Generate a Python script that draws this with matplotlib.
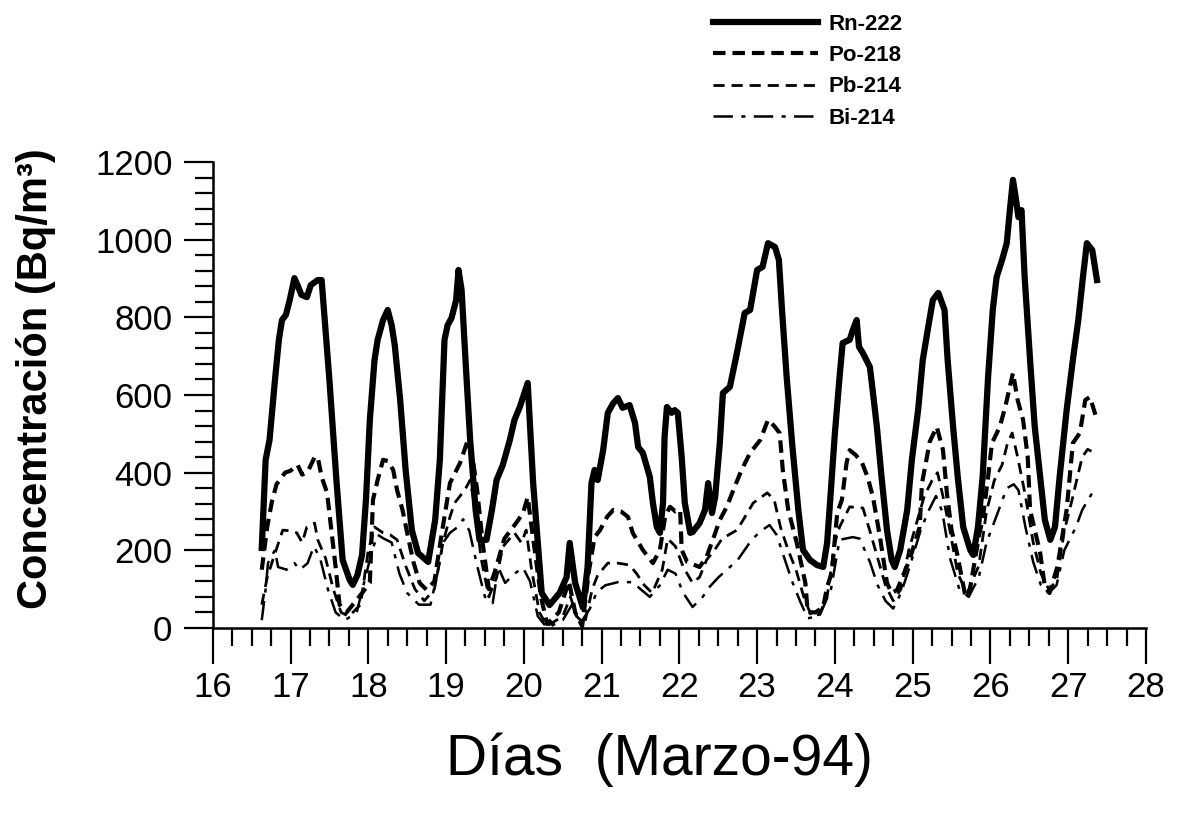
import numpy as np
import matplotlib
matplotlib.use('Agg')
import matplotlib.pyplot as plt
from matplotlib.ticker import MultipleLocator

plt.rcParams['font.family'] = ['Liberation Sans', 'DejaVu Sans']
plt.rcParams['lines.scale_dashes'] = False

# Rn-222 (day of March 1994, Bq/m3)
rn_day = [16.63, 16.68, 16.73, 16.80, 16.85, 16.89, 16.94, 16.99, 17.05, 17.09,
          17.14, 17.21, 17.26, 17.35, 17.40, 17.50, 17.59, 17.67, 17.76, 17.80,
          17.86, 17.92, 17.97, 18.02, 18.08, 18.12, 18.19, 18.25, 18.30, 18.34,
          18.41, 18.48, 18.56, 18.64, 18.77, 18.86, 18.92, 18.98, 19.02, 19.07,
          19.13, 19.16, 19.20, 19.25, 19.31, 19.38, 19.43, 19.52, 19.59, 19.65,
          19.73, 19.82, 19.88, 19.95, 20.05, 20.12, 20.23, 20.33, 20.46, 20.55,
          20.59, 20.66, 20.76, 20.82, 20.87, 20.91, 20.95, 21.02, 21.08, 21.15,
          21.21, 21.27, 21.36, 21.43, 21.47, 21.53, 21.62, 21.66, 21.71, 21.75,
          21.79, 21.81, 21.84, 21.90, 21.94, 21.98, 22.03, 22.07, 22.14, 22.17,
          22.26, 22.33, 22.37, 22.42, 22.46, 22.52, 22.56, 22.65, 22.74, 22.84,
          22.91, 23.00, 23.07, 23.14, 23.23, 23.28, 23.32, 23.38, 23.45, 23.53,
          23.59, 23.68, 23.77, 23.85, 23.90, 23.94, 24.00, 24.06, 24.10, 24.19,
          24.23, 24.28, 24.31, 24.36, 24.45, 24.49, 24.54, 24.60, 24.67, 24.73,
          24.77, 24.84, 24.93, 24.99, 25.07, 25.13, 25.20, 25.26, 25.33, 25.41,
          25.45, 25.52, 25.58, 25.65, 25.74, 25.78, 25.84, 25.90, 25.97, 26.03,
          26.08, 26.15, 26.21, 26.25, 26.29, 26.33, 26.36, 26.40, 26.44, 26.51,
          26.57, 26.64, 26.70, 26.77, 26.83, 26.89, 26.98, 27.06, 27.13, 27.19,
          27.24, 27.31, 27.37]
rn_conc = [206, 433, 484, 639, 742, 793, 806, 845, 901, 883,
           858, 852, 883, 896, 896, 639, 381, 175, 124, 111,
           136, 188, 330, 536, 690, 742, 793, 819, 780, 729,
           587, 407, 252, 193, 170, 278, 433, 742, 780, 798,
           845, 922, 870, 690, 484, 304, 227, 227, 304, 381,
           420, 484, 536, 570, 631, 373, 90, 59, 90, 131,
           219, 116, 52, 157, 373, 407, 381, 458, 554, 579,
           592, 567, 574, 528, 466, 451, 389, 322, 260, 245,
           322, 492, 569, 554, 561, 554, 440, 322, 245, 247,
           270, 304, 373, 296, 337, 476, 605, 621, 708, 811,
           819, 922, 930, 991, 981, 948, 819, 646, 476, 304,
           201, 175, 162, 157, 219, 330, 502, 646, 734, 742,
           767, 793, 724, 708, 672, 605, 518, 389, 252, 175,
           157, 201, 304, 433, 561, 690, 775, 845, 863, 819,
           690, 518, 389, 260, 201, 188, 260, 389, 646, 819,
           904, 948, 991, 1076, 1154, 1102, 1058, 1076, 904, 690,
           518, 389, 278, 227, 260, 389, 561, 690, 793, 904,
           991, 973, 896]

# Po-218
po_day = [16.63, 16.70, 16.76, 16.82, 16.93, 17.00, 17.09, 17.15, 17.22, 17.31,
          17.35, 17.40, 17.47, 17.53, 17.58, 17.63, 17.72, 17.85, 18.02, 18.06,
          18.12, 18.19, 18.25, 18.32, 18.37, 18.44, 18.50, 18.58, 18.66, 18.75,
          18.85, 18.95, 19.05, 19.18, 19.28, 19.34, 19.40, 19.47, 19.55, 19.62,
          19.75, 19.90, 19.99, 20.05, 20.10, 20.14, 20.22, 20.30, 20.45, 20.58,
          20.66, 20.75, 20.84, 20.91, 20.98, 21.07, 21.15, 21.25, 21.34, 21.40,
          21.53, 21.66, 21.75, 21.82, 21.88, 21.95, 22.01, 22.03, 22.10, 22.26,
          22.35, 22.43, 22.52, 22.61, 22.71, 22.80, 22.91, 23.04, 23.14, 23.22,
          23.29, 23.33, 23.40, 23.51, 23.62, 23.65, 23.75, 23.85, 23.90, 23.96,
          24.03, 24.09, 24.15, 24.19, 24.27, 24.35, 24.42, 24.49, 24.58, 24.67,
          24.73, 24.80, 24.96, 25.09, 25.12, 25.16, 25.22, 25.31, 25.39, 25.44,
          25.50, 25.57, 25.67, 25.72, 25.86, 25.90, 25.97, 26.02, 26.12, 26.19,
          26.25, 26.29, 26.35, 26.42, 26.48, 26.51, 26.55, 26.64, 26.70, 26.76,
          26.86, 26.89, 26.98, 27.06, 27.15, 27.22, 27.28, 27.37]
po_conc = [150, 260, 325, 370, 400, 405, 420, 395, 402, 440,
           440, 389, 348, 245, 157, 60, 40, 72, 116, 330,
           381, 433, 430, 407, 355, 304, 245, 170, 116, 98,
           120, 250, 373, 425, 484, 440, 355, 220, 100, 140,
           230, 270, 296, 337, 260, 201, 80, 10, 40, 120,
           40, 5, 150, 234, 252, 286, 304, 300, 286, 245,
           201, 167, 201, 290, 312, 300, 304, 201, 170, 157,
           183, 227, 278, 312, 363, 407, 451, 484, 536, 520,
           502, 407, 304, 219, 116, 41, 40, 54, 106, 142,
           296, 330, 425, 458, 445, 425, 389, 337, 234, 116,
           90, 98, 175, 260, 373, 415, 480, 518, 458, 348,
           252, 193, 90, 80, 245, 278, 389, 476, 518, 569,
           621, 657, 587, 536, 440, 304, 270, 193, 106, 90,
           157, 193, 304, 476, 502, 587, 595, 536]

# Pb-214
pb_day = [16.63, 16.70, 16.78, 16.90, 17.00, 17.08, 17.15, 17.21, 17.31, 17.35,
          17.45, 17.55, 17.65, 17.75, 17.90, 18.00, 18.08, 18.19, 18.28, 18.37,
          18.48, 18.60, 18.72, 18.85, 18.96, 19.05, 19.11, 19.24, 19.31, 19.38,
          19.45, 19.55, 19.65, 19.73, 19.88, 19.97, 20.03, 20.10, 20.20, 20.30,
          20.50, 20.60, 20.68, 20.78, 20.88, 20.95, 21.08, 21.21, 21.36, 21.45,
          21.55, 21.65, 21.78, 21.85, 21.95, 22.05, 22.17, 22.26, 22.35, 22.45,
          22.55, 22.74, 22.82, 22.95, 23.13, 23.22, 23.30, 23.40, 23.50, 23.60,
          23.70, 23.80, 23.90, 24.00, 24.06, 24.19, 24.28, 24.36, 24.45, 24.55,
          24.65, 24.75, 24.85, 24.95, 25.05, 25.15, 25.25, 25.32, 25.40, 25.48,
          25.58, 25.70, 25.85, 25.95, 26.05, 26.15, 26.22, 26.28, 26.35, 26.45,
          26.55, 26.65, 26.75, 26.85, 26.95, 27.05, 27.11, 27.18, 27.25, 27.35]
pb_conc = [60, 130, 180, 252, 250, 245, 220, 260, 270, 227,
           180, 100, 40, 30, 60, 200, 260, 245, 240, 227,
           160, 100, 70, 100, 219, 286, 322, 355, 381, 300,
           180, 80, 130, 209, 245, 219, 252, 150, 40, 5,
           30, 80, 30, 10, 100, 136, 167, 167, 162, 140,
           110, 90, 150, 230, 210, 157, 116, 131, 175, 200,
           230, 252, 278, 322, 348, 330, 260, 200, 150, 80,
           30, 35, 80, 220, 260, 312, 310, 309, 250, 180,
           110, 70, 100, 200, 270, 340, 380, 400, 330, 250,
           140, 90, 160, 300, 380, 420, 476, 502, 440, 340,
           220, 140, 100, 120, 250, 330, 381, 440, 460, 450]

# Bi-214
bi_day = [16.63, 16.68, 16.71, 16.80, 16.84, 16.95, 17.05, 17.12, 17.22, 17.30,
          17.38, 17.48, 17.58, 17.70, 17.85, 17.95, 18.05, 18.12, 18.20, 18.30,
          18.40, 18.50, 18.65, 18.80, 18.90, 18.96, 19.05, 19.15, 19.22, 19.30,
          19.40, 19.50, 19.60, 19.67, 19.76, 19.88, 19.99, 20.08, 20.18, 20.30,
          20.50, 20.62, 20.72, 20.85, 20.94, 21.05, 21.21, 21.40, 21.50, 21.62,
          21.75, 21.85, 21.95, 22.05, 22.17, 22.30, 22.39, 22.50, 22.75, 22.93,
          23.05, 23.16, 23.25, 23.35, 23.45, 23.55, 23.65, 23.80, 23.95, 24.06,
          24.23, 24.32, 24.45, 24.55, 24.65, 24.75, 24.85, 24.95, 25.10, 25.20,
          25.30, 25.38, 25.48, 25.60, 25.72, 25.85, 25.95, 26.10, 26.21, 26.30,
          26.36, 26.45, 26.55, 26.65, 26.75, 26.85, 26.95, 27.10, 27.18, 27.31,
          27.37]
bi_conc = [20, 100, 167, 201, 157, 150, 167, 150, 167, 210,
           180, 100, 40, 20, 40, 120, 200, 240, 230, 220,
           140, 90, 60, 60, 150, 219, 245, 260, 280, 250,
           160, 80, 64, 157, 116, 140, 155, 120, 30, 0,
           20, 60, 10, 50, 93, 110, 118, 118, 100, 80,
           110, 150, 140, 90, 54, 80, 106, 130, 175, 227,
           250, 265, 240, 180, 120, 70, 25, 30, 100, 227,
           234, 230, 170, 110, 70, 50, 90, 150, 250, 300,
           340, 300, 180, 100, 80, 130, 220, 300, 360, 370,
           355, 260, 170, 110, 90, 110, 200, 260, 304, 348,
           350]

xtick_days = np.arange(16, 29, 1)
ytick_vals = np.arange(0, 1201, 200)

fig = plt.figure(figsize=(11.82, 8.13), dpi=100)
ax = fig.add_axes([0.180, 0.2276, 0.7895, 0.5731])

ax.plot(rn_day, rn_conc, color='black', linewidth=4.5, linestyle='-',
        solid_joinstyle='round', label='Rn-222')
ax.plot(po_day, po_conc, color='black', linewidth=3.0,
        dashes=(9, 5), label='Po-218')
ax.plot(pb_day, pb_conc, color='black', linewidth=2.0,
        dashes=(8, 5), label='Pb-214')
ax.plot(bi_day, bi_conc, color='black', linewidth=1.8,
        dashes=(14, 6, 3, 6), label='Bi-214')

ax.set_xlim(16, 28)
ax.set_ylim(0, 1200)

ax.spines['right'].set_color('none')
ax.spines['top'].set_color('none')
ax.spines['left'].set_linewidth(1.8)
ax.spines['bottom'].set_linewidth(1.8)

ax.xaxis.set_ticks_position('bottom')
ax.yaxis.set_ticks_position('left')

ax.set_xticks(xtick_days)
ax.set_yticks(ytick_vals)
ax.xaxis.set_minor_locator(MultipleLocator(0.25))
ax.yaxis.set_minor_locator(MultipleLocator(40))

ax.tick_params(axis='x', which='major', direction='out', length=26, width=1.6,
               pad=5, labelsize=25)
ax.tick_params(axis='x', which='minor', direction='out', length=13, width=1.6)
ax.tick_params(axis='y', which='major', direction='out', length=21, width=1.6,
               pad=8, labelsize=25)
ax.tick_params(axis='y', which='minor', direction='out', length=13, width=1.6)

ax.set_ylabel('Concemtración (Bq/m³)', fontsize=30, weight='bold')
ax.yaxis.set_label_coords(-0.168, 0.535)
fig.text(0.558, 0.065, 'Días  (Marzo-94)', fontsize=41, ha='center',
         va='center')

leg = ax.legend(loc='upper left', bbox_to_anchor=(0.594, 0.997),
                bbox_transform=fig.transFigure, frameon=False,
                handlelength=4.7, handletextpad=0.5, labelspacing=0.47,
                borderpad=0, prop={'size': 16, 'weight': 'bold'})

fig.savefig('out.png', dpi=100)
